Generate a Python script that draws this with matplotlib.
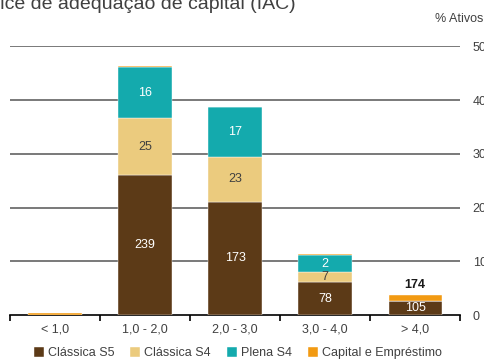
import numpy as np
import matplotlib.pyplot as plt

plt.rcParams['font.family'] = ['Liberation Sans', 'DejaVu Sans']

# faixas do IAC e participação (% dos ativos) por segmento
categorias = ['< 1,0', '1,0 - 2,0', '2,0 - 3,0', '3,0 - 4,0', '> 4,0']
classica_s5 = [0.0, 26.1, 21.1, 6.1, 2.55]
classica_s4 = [0.0, 10.5, 8.3, 1.85, 0.0]
plena_s4 = [0.0, 9.6, 9.3, 3.25, 0.1]
capital_emp = [0.3, 0.2, 0.1, 0.2, 1.1]

# quantidade de instituições em cada segmento
n_s5 = [None, 239, 173, 78, 105]
n_s4 = [None, 25, 23, 7, None]
n_plena = [None, 16, 17, 2, None]
n_cap = [None, None, None, None, 174]

cores = ['#5C3A17', '#EBCB7E', '#14AAAD', '#F29A12']
nomes = ['Clássica S5', 'Clássica S4', 'Plena S4', 'Capital e Empréstimo']

fig = plt.figure(figsize=(4.85, 3.61), dpi=100)
ax = fig.add_axes([0.0206, 0.1274, 0.928, 0.744])

x = np.arange(len(categorias))
w = 0.59
base = np.zeros(len(categorias))
series = [classica_s5, classica_s4, plena_s4, capital_emp]
for vals, cor, nome in zip(series, cores, nomes):
    ax.bar(x, vals, w, bottom=base, color=cor, label=nome, zorder=3,
           edgecolor='white', linewidth=0.3)
    base = base + np.array(vals)

# rótulos dentro das barras
b0 = np.zeros(len(categorias))
for vals, ns, cor_txt in [(classica_s5, n_s5, 'white'), (classica_s4, n_s4, '#404040'),
                          (plena_s4, n_plena, 'white')]:
    for i, (v, n) in enumerate(zip(vals, ns)):
        if n is not None:
            ax.text(x[i], b0[i] + v / 2, str(n), ha='center', va='center',
                    fontsize=9, color=cor_txt, zorder=4)
    b0 = b0 + np.array(vals)

for i, n in enumerate(n_cap):
    if n is not None:
        ax.text(x[i], base[i] + 0.7, str(n), ha='center', va='bottom',
                fontsize=9, color='#1a1a1a', fontweight='bold', zorder=4)

ax.set_xlim(-0.5, 4.5)
ax.set_ylim(0, 50)
for y in range(10, 51, 10):
    ax.axhline(y, color='#555555', lw=1.1, zorder=1)

for s in ['top', 'right', 'left']:
    ax.spines[s].set_visible(False)
ax.spines['bottom'].set_color('black')
ax.spines['bottom'].set_linewidth(1.2)

ax.set_xticks(np.arange(-0.5, 4.6, 1), minor=False)
ax.set_xticklabels([])
ax.tick_params(axis='x', direction='out', length=4, width=1.2, color='black')
ax.set_xticks(x, minor=True)
ax.set_xticklabels(categorias, minor=True)
ax.tick_params(axis='x', which='minor', length=0, labelsize=9,
               labelcolor='#404040', pad=6)

ax.yaxis.tick_right()
ax.set_yticks(range(0, 51, 10))
ax.tick_params(axis='y', length=0, labelsize=9, labelcolor='#404040', pad=9)

fig.text(0.996, 0.947, '% Ativos', ha='right', va='center', fontsize=9,
         color='#404040')
fig.text(-0.056, 0.976, 'Índice de adequação de capital (IAC)', ha='left',
         va='baseline', fontsize=14, color='#404040')

fig.legend(loc='center', bbox_to_anchor=(0.49, 0.022), ncol=4, frameon=False,
           fontsize=9, handlelength=0.8, handleheight=0.8, handletextpad=0.3,
           columnspacing=1.3, labelcolor='#404040', borderpad=0)

fig.savefig('out.png', dpi=100)
